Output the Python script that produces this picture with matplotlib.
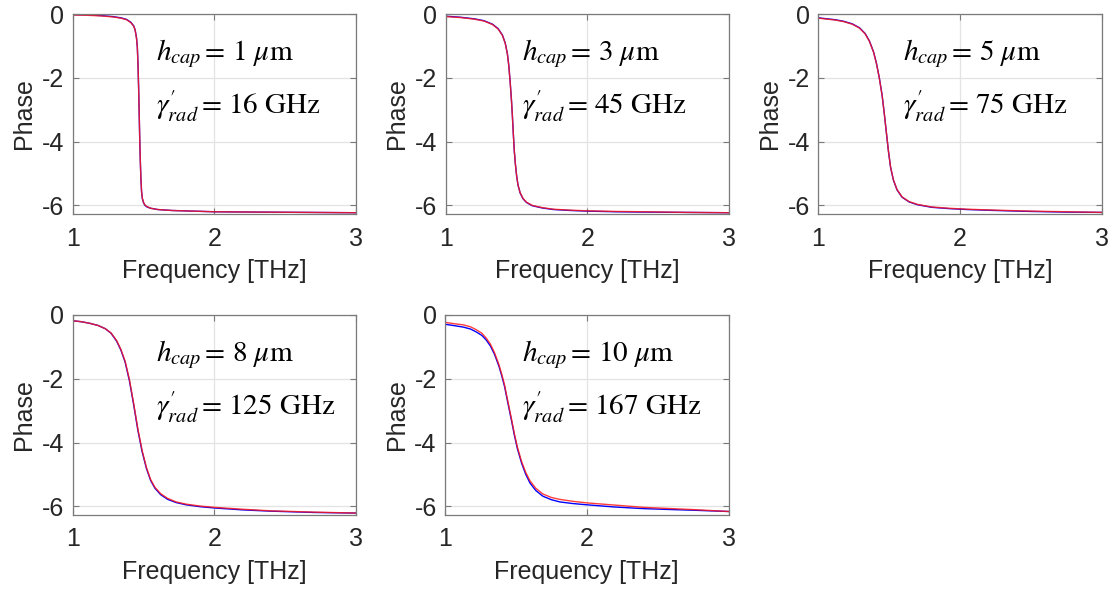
import matplotlib.pyplot as plt

plt.rcParams['font.family'] = ['Liberation Sans', 'DejaVu Sans']
plt.rcParams['mathtext.fontset'] = 'stix'
plt.rcParams['axes.unicode_minus'] = False

# ----- Data -----
f1 = [1.00, 1.10, 1.20, 1.28, 1.34, 1.38, 1.41, 1.43, 1.44, 1.45, 1.456, 1.461, 1.465, 1.469,
      1.473, 1.477, 1.481, 1.486, 1.492, 1.50, 1.51, 1.525, 1.55, 1.60, 1.70, 1.85, 2.00, 2.30,
      2.65, 3.00]
blue1 = [-0.02, -0.03, -0.05, -0.08, -0.12, -0.17, -0.26, -0.37, -0.49, -0.74, -1.04, -1.62,
         -2.30, -3.10, -3.95, -4.60, -5.15, -5.58, -5.80, -5.92, -6.00, -6.05, -6.09, -6.13,
         -6.16, -6.18, -6.20, -6.21, -6.22, -6.23]
red1 = [-0.03, -0.04, -0.06, -0.09, -0.13, -0.18, -0.27, -0.38, -0.50, -0.75, -1.05, -1.63,
        -2.31, -3.10, -3.94, -4.59, -5.14, -5.57, -5.79, -5.91, -5.99, -6.04, -6.09, -6.13,
        -6.16, -6.18, -6.20, -6.21, -6.22, -6.23]

f2 = [1.00, 1.10, 1.20, 1.27, 1.33, 1.37, 1.40, 1.42, 1.435, 1.445, 1.455, 1.463, 1.470, 1.477,
      1.484, 1.492, 1.50, 1.51, 1.525, 1.545, 1.57, 1.61, 1.68, 1.76, 1.88, 2.00, 2.20, 2.40,
      2.70, 3.00]
blue2 = [-0.07, -0.10, -0.15, -0.21, -0.32, -0.46, -0.66, -0.91, -1.24, -1.61, -2.14, -2.64,
         -3.15, -3.75, -4.30, -4.72, -5.06, -5.36, -5.61, -5.79, -5.91, -6.01, -6.08, -6.13,
         -6.16, -6.18, -6.20, -6.21, -6.22, -6.23]
red2 = [-0.08, -0.11, -0.16, -0.22, -0.33, -0.47, -0.67, -0.92, -1.25, -1.62, -2.15, -2.65,
        -3.15, -3.75, -4.30, -4.72, -5.06, -5.36, -5.60, -5.78, -5.90, -6.00, -6.07, -6.12,
        -6.15, -6.17, -6.19, -6.20, -6.22, -6.23]

f3 = [1.00, 1.06, 1.12, 1.18, 1.24, 1.29, 1.33, 1.36, 1.39, 1.41, 1.43, 1.45, 1.465, 1.48,
      1.495, 1.51, 1.53, 1.555, 1.59, 1.64, 1.70, 1.80, 1.92, 2.05, 2.25, 2.50, 2.75, 3.00]
blue3 = [-0.12, -0.15, -0.18, -0.23, -0.31, -0.43, -0.61, -0.84, -1.19, -1.54, -1.99, -2.54,
         -3.10, -3.71, -4.31, -4.81, -5.21, -5.51, -5.74, -5.89, -5.98, -6.06, -6.10, -6.13,
         -6.16, -6.19, -6.21, -6.22]
red3 = [-0.13, -0.16, -0.19, -0.24, -0.32, -0.44, -0.62, -0.85, -1.20, -1.55, -2.00, -2.55,
        -3.10, -3.70, -4.30, -4.80, -5.20, -5.50, -5.73, -5.88, -5.97, -6.05, -6.09, -6.12,
        -6.15, -6.18, -6.20, -6.22]

f4 = [1.00, 1.06, 1.12, 1.18, 1.23, 1.27, 1.31, 1.34, 1.37, 1.40, 1.43, 1.46, 1.49, 1.52, 1.55,
      1.58, 1.62, 1.67, 1.73, 1.80, 1.90, 2.00, 2.20, 2.40, 2.70, 3.00]
blue4 = [-0.18, -0.21, -0.26, -0.33, -0.43, -0.57, -0.82, -1.10, -1.48, -2.06, -2.81, -3.62,
         -4.29, -4.81, -5.19, -5.43, -5.63, -5.78, -5.88, -5.95, -6.01, -6.05, -6.11, -6.15,
         -6.19, -6.21]
red4 = [-0.18, -0.21, -0.26, -0.33, -0.43, -0.56, -0.80, -1.08, -1.45, -2.02, -2.77, -3.58,
        -4.25, -4.78, -5.16, -5.40, -5.60, -5.75, -5.86, -5.93, -5.99, -6.03, -6.09, -6.14,
        -6.18, -6.21]

f5 = [1.00, 1.06, 1.13, 1.18, 1.22, 1.26, 1.29, 1.32, 1.35, 1.38, 1.40, 1.42, 1.44, 1.47,
      1.49, 1.51, 1.54, 1.57, 1.60, 1.64, 1.69, 1.75, 1.81, 1.90, 2.00, 2.20, 2.40, 2.60,
      2.75, 3.00]
blue5 = [-0.29, -0.33, -0.38, -0.44, -0.53, -0.64, -0.78, -0.97, -1.24, -1.60, -1.90, -2.24,
         -2.68, -3.33, -3.78, -4.18, -4.64, -5.00, -5.27, -5.50, -5.68, -5.79, -5.86, -5.91,
         -5.95, -6.02, -6.07, -6.10, -6.12, -6.16]
red5 = [-0.23, -0.27, -0.31, -0.37, -0.46, -0.57, -0.72, -0.91, -1.19, -1.55, -1.85, -2.19,
        -2.63, -3.28, -3.73, -4.13, -4.59, -4.94, -5.20, -5.43, -5.61, -5.72, -5.78, -5.84,
        -5.89, -5.96, -6.03, -6.07, -6.10, -6.16]

freqs = [f1, f2, f3, f4, f5]
blues = [blue1, blue2, blue3, blue4, blue5]
reds = [red1, red2, red3, red4, red5]
h_caps = ['1', '3', '5', '8', '10']
gammas = ['16', '45', '75', '125', '167']
text_x = [1.59, 1.54, 1.60, 1.59, 1.545]

# axes boxes in pixels: left, top
boxes = [(72.7, 14), (445.7, 14), (818.3, 14), (72.7, 315), (445, 315)]

W, H = 1114, 592
fig = plt.figure(figsize=(W / 100, H / 100), dpi=100)

text_col = '#262626'
for i in range(5):
    left, top = boxes[i]
    ax = fig.add_axes([left / W, 1 - (top + 200) / H, 283.5 / W, 200 / H])
    ax.plot(freqs[i], blues[i], color='#0000ff', lw=1.0)
    ax.plot(freqs[i], reds[i], color='#ff1a1a', lw=1.0, alpha=0.85)
    ax.set_xlim(1, 3)
    ax.set_ylim(-6.27, 0)
    ax.set_xticks([1, 2, 3])
    ax.set_yticks([-6, -4, -2, 0])
    ax.grid(True, color='#e3e3e3', lw=0.9)
    ax.set_axisbelow(True)
    for s in ax.spines.values():
        s.set_color('#7a7a7a')
        s.set_linewidth(0.9)
    ax.tick_params(direction='in', length=4, width=0.8, color='#7a7a7a',
                   top=True, right=True, labelsize=18, labelcolor=text_col)
    ax.tick_params(axis='x', pad=9)
    ax.tick_params(axis='y', pad=6)
    ax.set_xlabel('Frequency [THz]', fontsize=18, color=text_col, labelpad=6)
    ax.set_ylabel('Phase', fontsize=18, color=text_col, labelpad=4)

    ax.text(text_x[i], -1.46, r'$h_{cap}\,$= ' + h_caps[i] + r' $\mu$m',
            fontsize=21, family='STIXGeneral', va='baseline', color='black')
    ax.text(text_x[i], -3.13, r"$\gamma^{\prime}_{rad}\,$= " + gammas[i] + ' GHz',
            fontsize=21, family='STIXGeneral', va='baseline', color='black')

fig.savefig('out.png', dpi=100)
